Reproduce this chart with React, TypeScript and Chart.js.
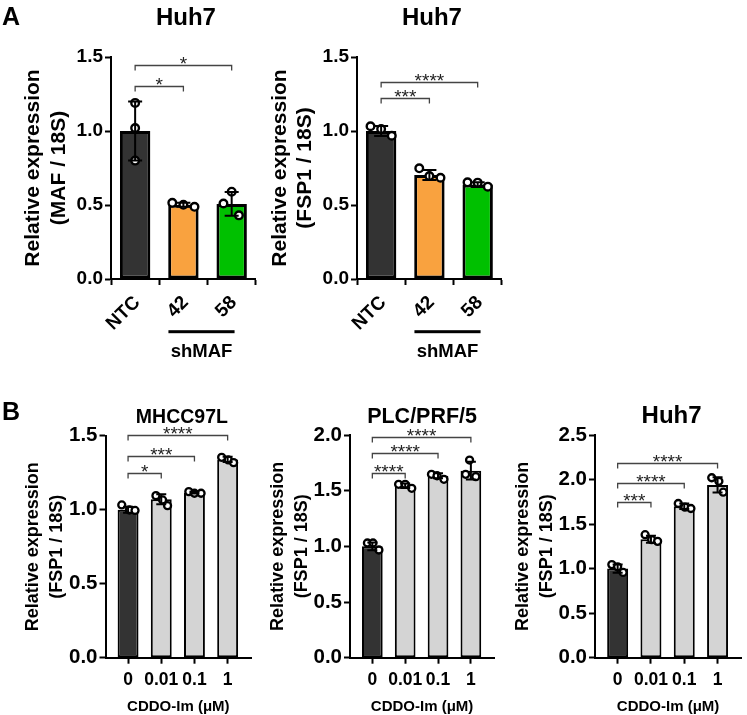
import React, { useEffect, useRef } from 'react';
import { Chart, registerables } from 'chart.js';

Chart.register(...registerables);

const FONT = "'Liberation Sans', Arial, Helvetica, sans-serif";

// ---------------- Panel A: Huh7, shMAF knockdown ----------------
const A_LABELS = ['NTC', '42', '58'];
const A_COLORS = ['#333333', '#F9A23F', '#00C000'];

const MAF_MEANS = [1.0, 0.502, 0.507];
const MAF_SD = [0.2, 0.014, 0.08];
const MAF_POINTS = [[1.19, 1.02, 0.8], [0.515, 0.502, 0.488], [0.59, 0.51, 0.43]];
const MAF_JITTER = [[0, 0, 0], [-0.23, 0, 0.23], [0, -0.17, 0.15]];
const MAF_SIG = [
  { from: 0, to: 1, y: 1.305, label: '*' },
  { from: 0, to: 2, y: 1.445, label: '*' },
];

const FSP1A_MEANS = [1.0, 0.703, 0.638];
const FSP1A_SD = [0.033, 0.034, 0.016];
const FSP1A_POINTS = [[1.032, 1.013, 0.968], [0.748, 0.696, 0.684], [0.653, 0.651, 0.624]];
const FSP1A_JITTER = [[-0.22, 0, 0.22], [-0.21, 0, 0.23], [-0.21, 0, 0.21]];
const FSP1A_SIG = [
  { from: 0, to: 1, y: 1.22, label: '***' },
  { from: 0, to: 2, y: 1.33, label: '****' },
];

// ---------------- Panel B: CDDO-Im dose ----------------
const B_LABELS = ['0', '0.01', '0.1', '1'];
const B_COLORS = ['#333333', '#D4D4D4', '#D4D4D4', '#D4D4D4'];

const MHCC_MEANS = [1.0, 1.07, 1.115, 1.34];
const MHCC_SD = [0.02, 0.034, 0.006, 0.018];
const MHCC_POINTS = [[1.032, 0.998, 0.995], [1.095, 1.066, 1.027], [1.122, 1.111, 1.111], [1.354, 1.336, 1.318]];
const MHCC_JITTER = [[-0.19, 0.04, 0.21], [-0.16, 0.04, 0.19], [-0.17, 0, 0.2], [-0.18, 0.02, 0.18]];
const MHCC_SIG = [
  { from: 0, to: 1, y: 1.25, label: '*' },
  { from: 0, to: 2, y: 1.363, label: '***' },
  { from: 0, to: 3, y: 1.505, label: '****' },
];

const PLC_MEANS = [1.0, 1.545, 1.634, 1.68];
const PLC_SD = [0.035, 0.02, 0.023, 0.08];
const PLC_POINTS = [[1.03, 1.03, 0.967], [1.557, 1.557, 1.521], [1.647, 1.634, 1.602], [1.775, 1.647, 1.626]];
const PLC_JITTER = [[-0.15, 0.02, 0.2], [-0.2, 0, 0.2], [-0.2, -0.03, 0.18], [-0.04, -0.16, 0.15]];
const PLC_SIG = [
  { from: 0, to: 1, y: 1.661, label: '****' },
  { from: 0, to: 2, y: 1.836, label: '****' },
  { from: 0, to: 3, y: 1.98, label: '****' },
];

const HUH7B_MEANS = [1.0, 1.33, 1.7, 1.94];
const HUH7B_SD = [0.045, 0.04, 0.03, 0.085];
const HUH7B_POINTS = [[1.045, 1.02, 0.957], [1.381, 1.325, 1.306], [1.731, 1.69, 1.675], [2.02, 1.98, 1.858]];
const HUH7B_JITTER = [[-0.175, 0, 0.165], [-0.175, 0.02, 0.2], [-0.18, 0.02, 0.2], [-0.175, 0.04, 0.17]];
const HUH7B_SIG = [
  { from: 0, to: 1, y: 1.75, label: '***' },
  { from: 0, to: 2, y: 1.965, label: '****' },
  { from: 0, to: 3, y: 2.19, label: '****' },
];

type Sig = { from: number; to: number; y: number; label: string };
type Cfg = {
  left: number; top: number; w: number; h: number;
  padLeft: number; padTop: number; padRight: number;
  yw: number; xh: number;
  xMin: number; xMax: number; yMax: number;
  labels: string[]; colors: string[];
  means: number[]; sd: number[]; points: number[][]; jitter: number[][]; sig: Sig[];
  yTitle: string[]; yTitleSize: number; yTitleLH: number; yTitlePad: number;
  yTickSize: number;
  xTickSize: number; xTickPad: number;
  rotLabels?: { dx: number; dy: number };
  xTitle?: string; xTitleSize?: number;
  title: string; titleSize: number; titleBase: number; titleDx: number;
  letter?: string; letterBase?: number;
  barBorder: number; barPct: number; cap: number; pointR: number; pointBW: number;
  group?: { text: string; from: number; to: number; lineDy: number; textDy: number; size: number };
};

const PANELS: Cfg[] = [
  {
    left: 0, top: 0, w: 262, h: 365, padLeft: 0, padTop: 57, padRight: 2.5, yw: 111, xh: 86,
    xMin: -0.5, xMax: 2.5, yMax: 1.5, labels: A_LABELS, colors: A_COLORS,
    means: MAF_MEANS, sd: MAF_SD, points: MAF_POINTS, jitter: MAF_JITTER, sig: MAF_SIG,
    yTitle: ['Relative expression', '(MAF / 18S)'], yTitleSize: 21, yTitleLH: 1.2, yTitlePad: 21,
    yTickSize: 19, xTickSize: 19, xTickPad: 3, rotLabels: { dx: 2, dy: 20.5 },
    title: 'Huh7', titleSize: 24, titleBase: 25, titleDx: 2.5, letter: 'A', letterBase: 25,
    barBorder: 3, barPct: 0.63, cap: 7, pointR: 3.8, pointBW: 2.4,
    group: { text: 'shMAF', from: 0.69, to: 2.06, lineDy: 52.7, textDy: 78, size: 18.5 },
  },
  {
    left: 246, top: 0, w: 262, h: 365, padLeft: 0, padTop: 57, padRight: 2.5, yw: 111, xh: 86,
    xMin: -0.5, xMax: 2.5, yMax: 1.5, labels: A_LABELS, colors: A_COLORS,
    means: FSP1A_MEANS, sd: FSP1A_SD, points: FSP1A_POINTS, jitter: FSP1A_JITTER, sig: FSP1A_SIG,
    yTitle: ['Relative expression', '(FSP1 / 18S)'], yTitleSize: 21, yTitleLH: 1.2, yTitlePad: 21.4,
    yTickSize: 19, xTickSize: 19, xTickPad: 3, rotLabels: { dx: 2, dy: 20.5 },
    title: 'Huh7', titleSize: 24, titleBase: 25, titleDx: 2.5,
    barBorder: 3, barPct: 0.63, cap: 7, pointR: 3.8, pointBW: 2.4,
    group: { text: 'shMAF', from: 0.69, to: 2.06, lineDy: 52.7, textDy: 78, size: 18.5 },
  },
  {
    left: 0, top: 365, w: 257, h: 350, padLeft: 0, padTop: 70.7, padRight: 1.5, yw: 105.5, xh: 57.3,
    xMin: -0.68, xMax: 3.71, yMax: 1.5, labels: B_LABELS, colors: B_COLORS,
    means: MHCC_MEANS, sd: MHCC_SD, points: MHCC_POINTS, jitter: MHCC_JITTER, sig: MHCC_SIG,
    yTitle: ['Relative expression', '(FSP1 / 18S)'], yTitleSize: 18, yTitleLH: 1.333, yTitlePad: 21.3,
    yTickSize: 20.5, xTickSize: 17.5, xTickPad: 5.5,
    xTitle: 'CDDO-Im (\u03bcM)', xTitleSize: 15,
    title: 'MHCC97L', titleSize: 19.5, titleBase: 58, titleDx: 3.5, letter: 'B', letterBase: 55,
    barBorder: 2, barPct: 0.63, cap: 5, pointR: 3.5, pointBW: 2.3,
  },
  {
    left: 250, top: 365, w: 250, h: 350, padLeft: 0, padTop: 70, padRight: 0, yw: 100, xh: 57.3,
    xMin: -0.68, xMax: 3.71, yMax: 2.0, labels: B_LABELS, colors: B_COLORS,
    means: PLC_MEANS, sd: PLC_SD, points: PLC_POINTS, jitter: PLC_JITTER, sig: PLC_SIG,
    yTitle: ['Relative expression', '(FSP1 / 18S)'], yTitleSize: 18, yTitleLH: 1.333, yTitlePad: 16.3,
    yTickSize: 20.5, xTickSize: 17.5, xTickPad: 5.5,
    xTitle: 'CDDO-Im (\u03bcM)', xTitleSize: 15,
    title: 'PLC/PRF/5', titleSize: 21.5, titleBase: 58, titleDx: 0,
    barBorder: 2, barPct: 0.63, cap: 5, pointR: 3.5, pointBW: 2.3,
  },
  {
    left: 497, top: 365, w: 250, h: 350, padLeft: 0, padTop: 70, padRight: 2, yw: 98, xh: 57.3,
    xMin: -0.68, xMax: 3.71, yMax: 2.5, labels: B_LABELS, colors: B_COLORS,
    means: HUH7B_MEANS, sd: HUH7B_SD, points: HUH7B_POINTS, jitter: HUH7B_JITTER, sig: HUH7B_SIG,
    yTitle: ['Relative expression', '(FSP1 / 18S)'], yTitleSize: 18, yTitleLH: 1.333, yTitlePad: 14.3,
    yTickSize: 20.5, xTickSize: 17.5, xTickPad: 5.5,
    xTitle: 'CDDO-Im (\u03bcM)', xTitleSize: 15,
    title: 'Huh7', titleSize: 24, titleBase: 58, titleDx: 3.5,
    barBorder: 2, barPct: 0.63, cap: 5, pointR: 3.5, pointBW: 2.3,
  },
];

function Panel({ cfg }: { cfg: Cfg }) {
  const ref = useRef<HTMLCanvasElement>(null);

  useEffect(() => {
    if (!ref.current) return;
    const annot = {
      id: 'annot' + cfg.title.replace(/\W/g, '') + cfg.left,
      afterDatasetsDraw(chart: any) {
        const { ctx, chartArea } = chart;
        const x = chart.scales.x;
        const y = chart.scales.y;
        ctx.save();
        // error bars (mean ± SD)
        ctx.strokeStyle = '#000';
        ctx.lineWidth = 2;
        cfg.means.forEach((m, i) => {
          const px = x.getPixelForValue(i);
          const t = y.getPixelForValue(m + cfg.sd[i]);
          const b = y.getPixelForValue(m - cfg.sd[i]);
          ctx.beginPath();
          ctx.moveTo(px, t); ctx.lineTo(px, b);
          ctx.moveTo(px - cfg.cap, t); ctx.lineTo(px + cfg.cap, t);
          ctx.moveTo(px - cfg.cap, b); ctx.lineTo(px + cfg.cap, b);
          ctx.stroke();
        });
        // significance brackets
        ctx.strokeStyle = '#444';
        ctx.lineWidth = 1.3;
        ctx.fillStyle = '#222';
        ctx.font = `normal 19px ${FONT}`;
        ctx.textAlign = 'center';
        ctx.textBaseline = 'alphabetic';
        cfg.sig.forEach((s) => {
          const x1 = x.getPixelForValue(s.from);
          const x2 = x.getPixelForValue(s.to);
          const yy = Math.round(y.getPixelForValue(s.y)) + 0.5;
          ctx.beginPath();
          ctx.moveTo(x1, yy + 5); ctx.lineTo(x1, yy); ctx.lineTo(x2, yy); ctx.lineTo(x2, yy + 5);
          ctx.stroke();
          ctx.fillText(s.label, (x1 + x2) / 2, yy + 4);
        });
        ctx.fillStyle = '#000';
        // rotated category labels
        if (cfg.rotLabels) {
          ctx.font = `bold ${cfg.xTickSize}px ${FONT}`;
          ctx.textAlign = 'right';
          ctx.textBaseline = 'middle';
          cfg.labels.forEach((lab, i) => {
            const px = x.getPixelForValue(i);
            ctx.save();
            ctx.translate(px + cfg.rotLabels!.dx, chartArea.bottom + cfg.rotLabels!.dy);
            ctx.rotate(-Math.PI / 4);
            ctx.fillText(lab, 0, 0);
            ctx.restore();
          });
          ctx.textAlign = 'center';
          ctx.textBaseline = 'alphabetic';
        }
        // group underline
        if (cfg.group) {
          const g = cfg.group;
          const x1 = x.getPixelForValue(g.from);
          const x2 = x.getPixelForValue(g.to);
          ctx.fillRect(x1, chartArea.bottom + g.lineDy - 1.5, x2 - x1, 3);
          ctx.font = `bold ${g.size}px ${FONT}`;
          ctx.fillText(g.text, (x1 + x2) / 2, chartArea.bottom + g.textDy);
        }
        // panel title
        ctx.font = `bold ${cfg.titleSize}px ${FONT}`;
        ctx.fillText(cfg.title, (chartArea.left + chartArea.right) / 2 + cfg.titleDx, cfg.titleBase);
        if (cfg.letter) {
          ctx.textAlign = 'left';
          ctx.font = `bold 25px ${FONT}`;
          ctx.fillText(cfg.letter, 2, cfg.letterBase);
        }
        ctx.restore();
      },
    };

    const scatterData: { x: number; y: number }[] = [];
    cfg.points.forEach((g, i) => g.forEach((v, j) => scatterData.push({ x: i + cfg.jitter[i][j], y: v })));

    const chart = new Chart(ref.current, {
      type: 'bar',
      data: {
        datasets: [
          {
            type: 'scatter',
            data: scatterData,
            pointRadius: cfg.pointR,
            pointHoverRadius: cfg.pointR,
            pointBorderWidth: cfg.pointBW,
            pointBackgroundColor: '#ffffff',
            pointBorderColor: '#000000',
            order: 0,
            clip: false,
          } as any,
          {
            type: 'bar',
            data: cfg.means.map((m, i) => ({ x: i, y: m })),
            backgroundColor: cfg.colors,
            borderColor: '#000000',
            borderWidth: cfg.barBorder,
            borderSkipped: false,
            categoryPercentage: 1,
            barPercentage: cfg.barPct,
            order: 1,
          } as any,
        ],
      },
      options: {
        responsive: false,
        animation: false,
        events: [],
        layout: { padding: { left: cfg.padLeft, top: cfg.padTop, right: cfg.padRight, bottom: 0 } },
        plugins: { legend: { display: false }, tooltip: { enabled: false }, title: { display: false } },
        scales: {
          x: {
            type: 'linear',
            min: cfg.xMin,
            max: cfg.xMax,
            offset: false,
            grid: { display: true, offset: false, drawOnChartArea: false, drawTicks: true, tickLength: 6, tickWidth: 2, tickColor: '#000' },
            border: { display: true, color: '#000', width: 2 },
            ticks: {
              display: !cfg.rotLabels,
              stepSize: 1,
              includeBounds: false,
              autoSkip: false,
              minRotation: 0,
              maxRotation: 0,
              padding: cfg.xTickPad,
              color: '#000',
              font: { family: FONT, size: cfg.xTickSize, weight: 'bold', lineHeight: 1.2 },
              callback: (v: any) => cfg.labels[Math.round(Number(v))] ?? '',
            },
            title: cfg.xTitle
              ? { display: true, text: cfg.xTitle, color: '#000', font: { family: FONT, size: cfg.xTitleSize, weight: 'bold', lineHeight: 1.1 }, padding: { top: 0, bottom: 0 } }
              : { display: false },
            afterFit: (s: any) => { s.height = cfg.xh; },
          } as any,
          y: {
            type: 'linear',
            min: 0,
            max: cfg.yMax,
            grid: { display: true, drawOnChartArea: false, drawTicks: true, tickLength: 6, tickWidth: 2, tickColor: '#000' },
            border: { display: true, color: '#000', width: 2 },
            ticks: {
              stepSize: 0.5,
              padding: 2,
              color: '#000',
              font: { family: FONT, size: cfg.yTickSize, weight: 'bold' },
              callback: (v: any) => Number(v).toFixed(1),
            },
            title: {
              display: true,
              text: cfg.yTitle,
              color: '#000',
              font: { family: FONT, size: cfg.yTitleSize, weight: 'bold', lineHeight: cfg.yTitleLH },
              padding: { top: cfg.yTitlePad, bottom: 0 },
            },
            afterFit: (s: any) => { s.width = cfg.yw; },
          } as any,
        },
      },
      plugins: [annot],
    });
    return () => chart.destroy();
  }, [cfg]);

  return (
    <canvas
      ref={ref}
      width={cfg.w}
      height={cfg.h}
      style={{ position: 'absolute', left: cfg.left, top: cfg.top, width: cfg.w, height: cfg.h, display: 'block' }}
    />
  );
}

export default function App() {
  return (
    <div style={{ position: 'absolute', left: 0, top: 0, width: 747, height: 715, background: '#ffffff', overflow: 'hidden' }}>
      {PANELS.map((p, i) => (
        <Panel key={i} cfg={p} />
      ))}
    </div>
  );
}
